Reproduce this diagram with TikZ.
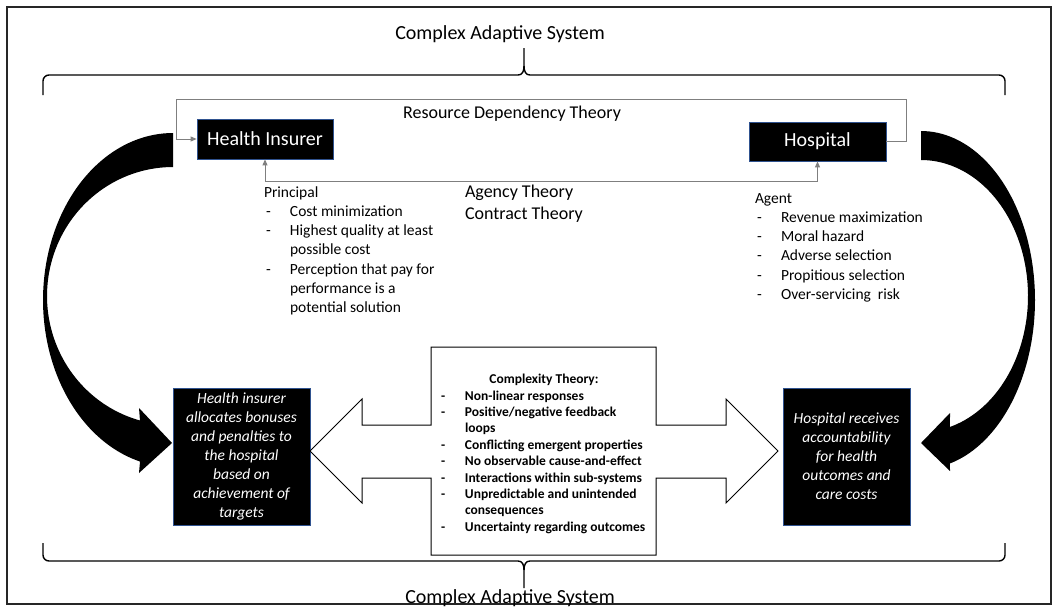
\documentclass[tikz,border=0pt]{standalone}
\usepackage{fontspec}
\setmainfont{Carlito}
\usetikzlibrary{arrows.meta}
\definecolor{boxblue}{HTML}{2F528F}
\definecolor{linegray}{HTML}{7F7F7F}
\newcommand\lidash{\makebox[26pt][l]{\hspace*{2pt}-}}
\newcommand\liskip{\hspace*{26pt}}
\tikzset{
  darkbox/.style={draw=boxblue, fill=black, line width=0.8pt, text=white,
    inner sep=0pt, align=center},
  conn/.style={draw=linegray, line width=0.9pt},
  tip/.style={-{Triangle[length=6pt,width=5pt]}},
  brace/.style={draw=black, line width=1.4pt, line join=round},
  plain/.style={inner sep=0pt, outer sep=0pt},
  lst/.style={plain, anchor=base west, font=\fontsize{15.5}{19.3}\selectfont},
  cplx/.style={plain, anchor=base west, font=\fontsize{13.5}{16.4}\selectfont\bfseries},
  ital/.style={font=\fontsize{15.5}{19}\selectfont\itshape}
}
\begin{document}
\begin{tikzpicture}[x=1pt, y=-1pt]
\useasboundingbox (0,0) rectangle (1059,606);
\fill[white] (0,0) rectangle (1059,606);

% outer frame
\draw[black!85, line width=1.1pt] (7,7) rectangle (1051,604);

% braces framing the system
\draw[brace] (43,95) -- (43,81) arc[start angle=180, end angle=270, radius=6]
  -- (518,75) .. controls (522,75) and (524,72) .. (524,66) -- (524,48);
\draw[brace] (524,66) .. controls (524,72) and (526,75) .. (530,75)
  -- (999,75) arc[start angle=-90, end angle=0, radius=6] -- (1005,95);
\draw[brace] (43,543) -- (43,555) arc[start angle=180, end angle=90, radius=6]
  -- (518,561) .. controls (522,561) and (524,564) .. (524,570) -- (524,588);
\draw[brace] (524,570) .. controls (524,564) and (526,561) .. (530,561)
  -- (999,561) arc[start angle=90, end angle=0, radius=6] -- (1005,543);

\node[plain, anchor=base, font=\fontsize{20}{24}\selectfont] (castop) at (500,39.5) {Complex Adaptive System};
\node[plain, anchor=base, font=\fontsize{20}{24}\selectfont] (casbot) at (510,603) {Complex Adaptive System};

% actors
\node[darkbox, minimum width=136pt, minimum height=40pt, font=\fontsize{20}{24}\selectfont] (hi) at (265,139) {Health Insurer};
\node[darkbox, minimum width=137pt, minimum height=39pt, font=\fontsize{20}{24}\selectfont] (hosp) at (817.5,141.5) {Hospital};

% resource dependency loop
\coordinate (rdtR) at (906,99);
\coordinate (rdtL) at (176,99);
\draw[conn, tip] (hosp.east) -| (rdtR) -- (rdtL) |- (hi.west);
\node[plain, anchor=base, font=\fontsize{18}{21.6}\selectfont] (rdt) at (512,118.5) {Resource Dependency Theory};

% agency relation
\draw[conn, {Triangle[length=6pt,width=5pt]}-{Triangle[length=6pt,width=5pt]}]
  (hi.south) -- ++(0,22) -| (hosp.south);
\node[plain, anchor=base west, font=\fontsize{18}{21.6}\selectfont] (agency) at (465,197.5)
  {\begin{tabular}[t]{@{}l@{}}Agency Theory\\Contract Theory\end{tabular}};

\node[lst] (principal) at (264,197)
  {\begin{tabular}[t]{@{}l@{}}
   Principal\\
   \lidash Cost minimization\\
   \lidash Highest quality at least\\
   \liskip possible cost\\
   \lidash Perception that pay for\\
   \liskip performance is a\\
   \liskip potential solution
   \end{tabular}};

\node[lst] (agent) at (755,203)
  {\begin{tabular}[t]{@{}l@{}}
   Agent\\
   \lidash Revenue maximization\\
   \lidash Moral hazard\\
   \lidash Adverse selection\\
   \lidash Propitious selection\\
   \lidash Over-servicing\ \ risk
   \end{tabular}};

% outcome boxes
\node[darkbox, ital, minimum width=137pt, minimum height=137pt] (alloc) at (241.5,456.5)
  {Health insurer\\allocates bonuses\\and penalties to\\the hospital\\based on\\achievement of\\targets};
\node[darkbox, ital, minimum width=127pt, minimum height=137pt] (recv) at (846.5,456.5)
  {Hospital receives\\accountability\\for health\\outcomes and\\care costs};

% curved arrows from the actors down to the outcomes
\fill[black] plot[domain=90:255.3, samples=80] ({173+130*cos(\x)},{300-167*sin(\x)})
  -- (139,473) -- (172,443) -- (139,408)
  -- plot[domain=90:254.8, samples=80] ({173+126*cos(344.8-\x)},{296-129*sin(344.8-\x)})
  -- cycle;
\fill[black] plot[domain=-90:75.3, samples=80] ({921+114*cos(\x)},{300+169*sin(\x)})
  -- (950,471) -- (921,443) -- (950,413)
  -- plot[domain=-90:74.3, samples=80] ({921+107*cos(-15.7-\x)},{296+136*sin(-15.7-\x)})
  -- cycle;

% complexity theory double arrow callout
\draw[fill=white, draw=black, line width=1pt, line join=miter]
  (431,347) -- (656,347) -- (656,425) -- (726,425) -- (726,399) -- (778,451)
  -- (726,503) -- (726,478) -- (656,478) -- (656,555) -- (431,555) -- (431,478)
  -- (362,478) -- (362,503) -- (310,451) -- (362,399) -- (362,425) -- (431,425) -- cycle;
\node[plain, anchor=base, font=\fontsize{13.5}{16.4}\selectfont\bfseries] (cplxtitle) at (544,383) {Complexity Theory:};
\node[cplx] (cplxlist) at (439,400)
  {\begin{tabular}[t]{@{}l@{}}
   \lidash Non-linear responses\\
   \lidash Positive/negative feedback\\
   \liskip loops\\
   \lidash Conflicting emergent properties\\
   \lidash No observable cause-and-effect\\
   \lidash Interactions within sub-systems\\
   \lidash Unpredictable and unintended\\
   \liskip consequences\\
   \lidash Uncertainty regarding outcomes
   \end{tabular}};
\end{tikzpicture}
\end{document}
